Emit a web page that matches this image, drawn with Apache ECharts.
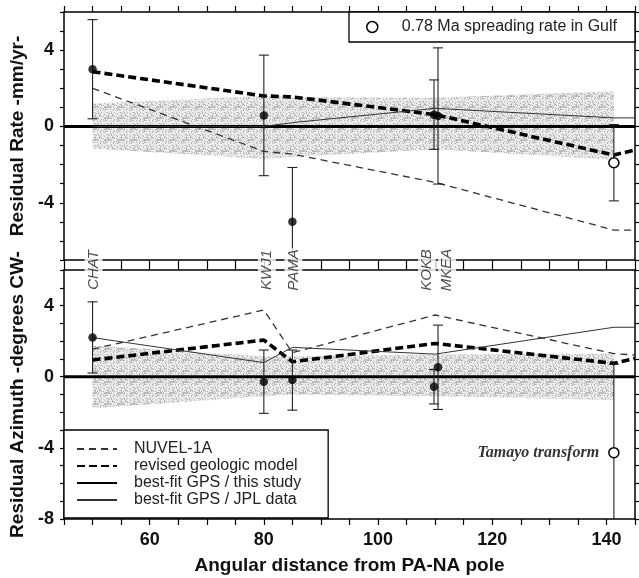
<!DOCTYPE html>
<html>
<head>
<meta charset="utf-8">
<script src="https://cdn.jsdelivr.net/npm/echarts@6/dist/echarts.min.js"></script>
<style>
html,body{margin:0;padding:0;background:#fff;}
#chart{width:639px;height:578px;}
</style>
</head>
<body>
<div id="chart"></div>
<script>
// ---------- data ----------
const stationNames = ['CHAT', 'KWJ1', 'PAMA', 'KOKB', 'MKEA'];
const stationDist  = [50, 80, 85, 109.8, 110.5];
const rateObs      = [3.0, 0.58, -5.0, 0.62, 0.55];
const rateErr      = [2.6, 3.16, 2.85, 1.82, 3.57];
const azObs        = [2.21, -0.28, -0.19, -0.56, 0.53];
const azErr        = [2.0, 1.78, 1.69, 0.97, 2.37];

const gulfDist = [141.3];
const gulfRate = [-1.9];
const gulfRateErr = [2.0];
const tamayoAz = [-4.27];
const tamayoAzErr = [4.98];

const modelDist = [50, 80, 85, 110, 141.3, 145];
const nuvelRate = [2.0, -1.31, -1.45, -2.93, -5.43, -5.43];
const geoRate   = [2.87, 1.6, 1.55, 0.62, -1.5, -1.23];
const jplRate   = [0, 0, 0.2, 0.95, 0.45, 0.45];
const nuvelAz   = [1.55, 3.75, 1.35, 3.47, 1.3, 1.22];
const geoAz     = [0.94, 2.06, 0.84, 1.87, 0.75, 1.03];
const jplAz     = [2.2, 0.79, 1.65, 1.27, 2.78, 2.78];

const gpsDist = [45, 145];
const gpsZero = [0, 0];

const bandDist   = [50, 80, 85, 110, 141.3];
const rateBandHi = [1.2, 1.6, 1.55, 1.5, 1.85];
const rateBandLo = [-1.15, -1.7, -1.6, -1.2, -1.75];
const azBandHi   = [1.75, 1.15, 1.15, 1.25, 1.3];
const azBandLo   = [-1.78, -1.1, -1.0, -1.1, -1.31];

const xTickLabels = [60, 80, 100, 120, 140];
const rateTickLabels = [-4, 0, 4];
const azTickLabels = [-8, -4, 0, 4];

const legendNames = ['NUVEL-1A', 'revised geologic model', 'best-fit GPS / this study', 'best-fit GPS / JPL data'];
const gulfName = '0.78 Ma spreading rate in Gulf';
const tamayoText = 'Tamayo transform';

// ---------- styling helpers ----------
const FONT = 'Liberation Sans, Arial, sans-serif';
const RATE_MIN = -7, RATE_MAX = 6, AZ_MIN = -8, AZ_MAX = 6;

// stipple texture (fixed pixel pattern)
const pat = document.createElement('canvas');
pat.width = 13; pat.height = 11;
(function () {
  const c = pat.getContext('2d');
  c.fillStyle = '#ececec'; c.fillRect(0, 0, 13, 11);
  for (let i = 0; i < 13; i++) for (let j = 0; j < 11; j++) {
    const h = (i * 7 + j * 13 + i * j * 5 + (i * i) * 3) % 17;
    if (h < 4) { c.fillStyle = '#b4b4b4'; c.fillRect(i, j, 1, 1); }
    else if (h < 7) { c.fillStyle = '#cfcfcf'; c.fillRect(i, j, 1, 1); }
  }
})();

const zip = (xs, ys) => xs.map((x, i) => [x, ys[i]]);

function bandSeries(xi, yi, lo, hi) {
  return {
    type: 'custom', xAxisIndex: xi, yAxisIndex: yi, z: 1, silent: true,
    data: [[bandDist[0], lo[0]]],
    renderItem: function (params, api) {
      const pts = [];
      for (let i = 0; i < bandDist.length; i++) pts.push(api.coord([bandDist[i], hi[i]]));
      for (let i = bandDist.length - 1; i >= 0; i--) pts.push(api.coord([bandDist[i], lo[i]]));
      return { type: 'polygon', shape: { points: pts }, style: { fill: { image: pat, repeat: 'repeat' } } };
    }
  };
}

function errSeries(xi, yi, xs, ys, es, yMin, yMax) {
  return {
    type: 'custom', xAxisIndex: xi, yAxisIndex: yi, z: 3, silent: true,
    data: xs.map((x, i) => [x, ys[i], es[i]]),
    encode: { x: 0, y: 1 },
    renderItem: function (params, api) {
      const x = api.value(0), y = api.value(1), e = api.value(2);
      const lo = Math.max(y - e, yMin), hi = Math.min(y + e, yMax);
      const p1 = api.coord([x, lo]), p2 = api.coord([x, hi]);
      const st = { stroke: '#222', lineWidth: 1.1 };
      const ch = [{ type: 'line', shape: { x1: p1[0], y1: p1[1], x2: p2[0], y2: p2[1] }, style: st }];
      if (y - e >= yMin) ch.push({ type: 'line', shape: { x1: p1[0] - 5, y1: p1[1], x2: p1[0] + 5, y2: p1[1] }, style: st });
      if (y + e <= yMax) ch.push({ type: 'line', shape: { x1: p2[0] - 5, y1: p2[1], x2: p2[0] + 5, y2: p2[1] }, style: st });
      return { type: 'group', children: ch };
    }
  };
}

function lineSet(xi, yi, nuvel, geo, jpl) {
  const base = { type: 'line', xAxisIndex: xi, yAxisIndex: yi, symbol: 'none', z: 2, silent: true, itemStyle: { color: '#000' } };
  return [
    Object.assign({ name: legendNames[0], data: zip(modelDist, nuvel), lineStyle: { color: '#333', width: 1.3, type: [7, 5] } }, base),
    Object.assign({ name: legendNames[1], data: zip(modelDist, geo), lineStyle: { color: '#000', width: 3.6, type: [8, 4] } }, base),
    Object.assign({ name: legendNames[2], data: zip(gpsDist, gpsZero), lineStyle: { color: '#000', width: 3 } }, base),
    Object.assign({ name: legendNames[3], data: zip(modelDist, jpl), lineStyle: { color: '#333', width: 1 } }, base)
  ];
}

const axLine = { show: true, onZero: false, lineStyle: { color: '#000', width: 1.5 } };

function xAx(grid, pos, ticklen, labels, extra) {
  return Object.assign({
    type: 'value', gridIndex: grid, position: pos, min: 45, max: 145, interval: 5,
    axisLine: axLine,
    axisTick: { show: ticklen > 0, inside: false, length: ticklen, lineStyle: { color: '#000', width: 1.2 } },
    axisLabel: labels ? { customValues: labels, fontSize: 18, fontWeight: 'bold', fontFamily: FONT, color: '#111', margin: 12 } : { show: false },
    splitLine: { show: false }
  }, extra || {});
}
function yAx(grid, pos, min, max, labels, extra) {
  return Object.assign({
    type: 'value', gridIndex: grid, position: pos, min: min, max: max, interval: 1,
    axisLine: axLine,
    axisTick: { show: true, inside: false, length: 4, lineStyle: { color: '#000', width: 1.2 } },
    axisLabel: labels ? { customValues: labels, fontSize: 18, fontWeight: 'bold', fontFamily: FONT, color: '#111', margin: 10 } : { show: false },
    splitLine: { show: false }
  }, extra || {});
}

const nameStyle = { fontSize: 19, fontWeight: 'bold', fontFamily: FONT, color: '#111' };

// label offsets are in the label's rotated frame: [along text, across text]
const stationLabelOffsets = [[0, 1], [0, 3], [0, 1], [0, -7], [0, 9]];

const option = {
  animation: false,
  backgroundColor: '#fff',
  grid: [
    { left: 64, right: 4, top: 12, height: 248 },
    { left: 64, right: 4, top: 270, height: 249 }
  ],
  xAxis: [
    xAx(0, 'top', 6, null),
    xAx(0, 'bottom', 10, null),
    xAx(1, 'bottom', 6, xTickLabels, { name: 'Angular distance from PA-NA pole', nameLocation: 'middle', nameGap: 37, nameTextStyle: nameStyle }),
    xAx(1, 'top', 0, null)
  ],
  yAxis: [
    yAx(0, 'left', RATE_MIN, RATE_MAX, rateTickLabels, { name: 'Residual Rate -mm/yr-', nameLocation: 'middle', nameGap: 31, nameRotate: 90, nameTextStyle: nameStyle }),
    yAx(0, 'right', RATE_MIN, RATE_MAX, null),
    yAx(1, 'left', AZ_MIN, AZ_MAX, azTickLabels, { name: 'Residual Azimuth -degrees CW-', nameLocation: 'middle', nameGap: 31, nameRotate: 90, nameTextStyle: nameStyle }),
    yAx(1, 'right', AZ_MIN, AZ_MAX, null)
  ],
  legend: [
    {
      data: legendNames, orient: 'vertical', left: 64, top: 430,
      padding: [11, 27, 10, 12], itemWidth: 40, itemHeight: 14, itemGap: 1,
      borderColor: '#000', borderWidth: 1.3, backgroundColor: '#fff', selectedMode: false,
      itemStyle: { opacity: 0 },
      textStyle: { fontSize: 16, fontFamily: FONT, color: '#222', padding: [0, 0, 0, 12] }
    },
    {
      data: [{ name: gulfName, icon: 'circle' }], left: 349, top: 12,
      padding: [7, 18, 7, 17], itemWidth: 11, itemHeight: 11,
      borderColor: '#000', borderWidth: 1.3, backgroundColor: '#fff', selectedMode: false,
      itemStyle: { color: '#fff', borderColor: '#000', borderWidth: 1.5 },
      textStyle: { fontSize: 16, fontFamily: FONT, color: '#222', padding: [0, 0, 0, 19] }
    }
  ],
  series: [
    bandSeries(0, 0, rateBandLo, rateBandHi),
    ...lineSet(0, 0, nuvelRate, geoRate, jplRate),
    errSeries(0, 0, stationDist, rateObs, rateErr, RATE_MIN, RATE_MAX),
    errSeries(0, 0, gulfDist, gulfRate, gulfRateErr, RATE_MIN, RATE_MAX),
    { type: 'scatter', xAxisIndex: 0, yAxisIndex: 0, data: zip(stationDist, rateObs), symbol: 'circle', symbolSize: 8.5, z: 4,
      itemStyle: { color: '#000' }, silent: true },
    { name: gulfName, type: 'scatter', xAxisIndex: 0, yAxisIndex: 0, data: zip(gulfDist, gulfRate), symbol: 'circle', symbolSize: 10, z: 4,
      itemStyle: { color: '#fff', borderColor: '#000', borderWidth: 1.5, opacity: 1 }, silent: true },

    bandSeries(2, 2, azBandLo, azBandHi),
    ...lineSet(2, 2, nuvelAz, geoAz, jplAz),
    errSeries(2, 2, stationDist, azObs, azErr, AZ_MIN, AZ_MAX),
    errSeries(2, 2, gulfDist, tamayoAz, tamayoAzErr, AZ_MIN, AZ_MAX),
    { type: 'scatter', xAxisIndex: 2, yAxisIndex: 2, data: zip(stationDist, azObs), symbol: 'circle', symbolSize: 8.5, z: 4,
      itemStyle: { color: '#000' }, silent: true },
    { name: 'Tamayo', type: 'scatter', xAxisIndex: 2, yAxisIndex: 2, data: zip(gulfDist, tamayoAz), symbol: 'circle', symbolSize: 10, z: 4,
      itemStyle: { color: '#fff', borderColor: '#000', borderWidth: 1.5, opacity: 1 }, silent: true,
      label: { show: true, position: 'left', distance: 9, formatter: tamayoText, fontFamily: 'Liberation Serif, Times New Roman, serif',
        fontStyle: 'italic', fontWeight: 'bold', fontSize: 16, color: '#333' } },
    { type: 'scatter', xAxisIndex: 2, yAxisIndex: 2, z: 6, silent: true, symbolSize: 1,
      itemStyle: { color: 'rgba(0,0,0,0)' },
      data: stationDist.map((x, i) => ({
        value: [x, AZ_MAX], name: stationNames[i],
        label: { offset: stationLabelOffsets[i] }
      })),
      label: { show: true, position: 'inside', rotate: 90, formatter: '{b}', fontFamily: FONT, fontStyle: 'italic',
        fontSize: 15, color: '#222', backgroundColor: '#fff', padding: [2, 1, 1, 1] }
    }
  ]
};

const chart = echarts.init(document.getElementById('chart'), null, { renderer: 'canvas' });
chart.setOption(option);
</script>
</body>
</html>
